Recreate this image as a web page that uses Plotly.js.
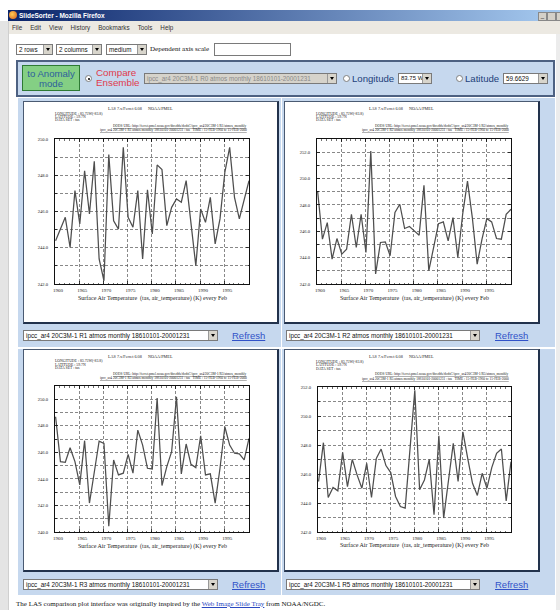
<!DOCTYPE html>
<html><head><meta charset="utf-8">
<script src="https://cdn.plot.ly/plotly-3.0.1.min.js"></script>
<style>
html,body{margin:0;padding:0;}
body{width:560px;height:610px;position:relative;overflow:hidden;background:#fff;font-family:"Liberation Sans",Arial,sans-serif;}
.a{position:absolute;}
.sel{position:absolute;background:#fff;border:1px solid #7a7a7a;box-sizing:border-box;font-size:6.3px;line-height:9px;color:#111;white-space:nowrap;overflow:hidden;padding-left:2px;}
.sel .arr{position:absolute;right:0;top:0;bottom:0;width:8px;background:#d8d5cc;border-left:1px solid #999;}
.sel .arr:after{content:"";position:absolute;left:2px;top:3px;border-left:2px solid transparent;border-right:2px solid transparent;border-top:3px solid #000;}
.sel.dis{background:#d6d3cb;color:#8a8a8a;}
.radio{position:absolute;width:7px;height:7px;border-radius:50%;background:#fff;border:1px solid #808080;box-sizing:border-box;}
.radio.on:after{content:"";position:absolute;left:1.5px;top:1.5px;width:2px;height:2px;border-radius:50%;background:#000;}
.panel{position:absolute;background:#c6d8ee;}
.box{position:absolute;background:#fff;border-left:1px solid #4a5a72;border-top:1px solid #4a5a72;border-right:2px solid #22324c;border-bottom:2px solid #22324c;box-sizing:border-box;}
.refresh{position:absolute;color:#3152c8;text-decoration:underline;font-size:9.5px;line-height:11px;}
.plot{position:absolute;width:253px;height:220px;}
</style></head><body>

<!-- window chrome -->
<div class="a" style="left:8px;top:10px;width:552px;height:11px;background:linear-gradient(to right,#0a246a,#a6caf0);"></div>
<div class="a" style="left:9px;top:11px;width:8px;height:8px;background:radial-gradient(circle at 40% 40%,#ffcc55,#d2581a);border-radius:50%;"></div>
<div class="a" style="left:19px;top:10px;color:#fff;font-weight:bold;font-size:6.5px;line-height:11px;">SlideSorter - Mozilla Firefox</div>
<div class="a" style="left:538px;top:12px;width:7px;height:7px;background:#d4d0c8;border:1px solid #888;font-size:6px;line-height:6px;text-align:center;">_</div>
<div class="a" style="left:547px;top:12px;width:7px;height:7px;background:#d4d0c8;border:1px solid #888;"></div>
<div class="a" style="left:556px;top:12px;width:7px;height:7px;background:#d4d0c8;border:1px solid #888;"></div>
<div class="a" style="left:8px;top:21px;width:552px;height:13px;background:#ece9e2;"></div>
<div class="a" style="left:0px;top:21px;width:8px;height:589px;background:#e4e4e4;border-right:1px solid #cfcfcf;"></div>
<div class="a" style="left:556px;top:34px;width:4px;height:576px;background:#ececec;"></div>
<div class="a" style="left:12px;top:22px;font-size:6.3px;line-height:11px;color:#333;">
<span style="margin-right:8px">File</span><span style="margin-right:8px">Edit</span><span style="margin-right:8px">View</span><span style="margin-right:8px">History</span><span style="margin-right:8px">Bookmarks</span><span style="margin-right:8px">Tools</span><span>Help</span></div>

<!-- top controls -->
<div class="sel" style="left:16px;top:44px;width:37px;height:11px;">2 rows<span class="arr"></span></div>
<div class="sel" style="left:56px;top:44px;width:46px;height:11px;">2 columns<span class="arr"></span></div>
<div class="sel" style="left:106px;top:44px;width:41px;height:11px;">medium<span class="arr"></span></div>
<div class="a" style="left:150px;top:44px;font-family:'Liberation Serif',serif;font-size:7px;line-height:11px;color:#111;">Dependent axis scale</div>
<div class="a" style="left:214px;top:43px;width:77px;height:13px;border:1px solid #7a7a7a;box-sizing:border-box;background:#fff;"></div>

<!-- blue control bar -->
<div class="a" style="left:16px;top:60px;width:539px;height:37px;background:#c6d8ee;border:2px solid #4d6182;box-sizing:border-box;"></div>
<div class="a" style="left:22px;top:65px;width:58px;height:26px;background:#84cf84;border:1px solid #2e7a34;box-sizing:border-box;text-align:center;color:#2d5f9c;font-size:9.6px;line-height:10px;padding-top:2.5px;">to Anomaly<br>mode</div>
<div class="radio on" style="left:85px;top:75px;"></div>
<div class="a" style="left:96px;top:68px;color:#e03a4c;font-size:9.8px;line-height:10px;">Compare<br>Ensemble</div>
<div class="sel dis" style="left:144px;top:73px;width:193px;height:11px;">ipcc_ar4 20C3M-1 R0 atmos monthly 18610101-20001231<span class="arr"></span></div>
<div class="radio" style="left:343px;top:75px;"></div>
<div class="a" style="left:352px;top:73px;color:#22407a;font-size:9.6px;line-height:11px;">Longitude</div>
<div class="sel" style="left:398px;top:73px;width:34px;height:11px;font-size:6px;">83.75 W<span class="arr"></span></div>
<div class="radio" style="left:456px;top:75px;"></div>
<div class="a" style="left:465px;top:73px;color:#22407a;font-size:9.6px;line-height:11px;">Latitude</div>
<div class="sel" style="left:503px;top:73px;width:45px;height:11px;">59.6629<span class="arr"></span></div>

<!-- panels -->
<div class="panel" style="left:18px;top:98px;width:263px;height:249px;"></div>
<div class="panel" style="left:282px;top:98px;width:273px;height:249px;"></div>
<div class="panel" style="left:18px;top:349px;width:263px;height:246px;"></div>
<div class="panel" style="left:282px;top:349px;width:273px;height:246px;"></div>
<div class="box" style="left:23px;top:101px;width:256px;height:223px;"></div>
<div class="box" style="left:284px;top:101px;width:256px;height:223px;"></div>
<div class="box" style="left:23px;top:349px;width:256px;height:223px;"></div>
<div class="box" style="left:284px;top:349px;width:256px;height:223px;"></div>

<div id="p1" class="plot" style="left:24px;top:102px;"></div>
<div id="p2" class="plot" style="left:285px;top:102px;"></div>
<div id="p3" class="plot" style="left:24px;top:350px;"></div>
<div id="p4" class="plot" style="left:285px;top:350px;"></div>

<div class="sel" style="left:23px;top:330px;width:195px;height:11px;">ipcc_ar4 20C3M-1 R1 atmos monthly 18610101-20001231<span class="arr"></span></div>
<div class="refresh" style="left:232px;top:330px;">Refresh</div>
<div class="sel" style="left:286px;top:330px;width:194px;height:11px;">ipcc_ar4 20C3M-1 R2 atmos monthly 18610101-20001231<span class="arr"></span></div>
<div class="refresh" style="left:495px;top:330px;">Refresh</div>
<div class="sel" style="left:23px;top:579px;width:195px;height:11px;">ipcc_ar4 20C3M-1 R3 atmos monthly 18610101-20001231<span class="arr"></span></div>
<div class="refresh" style="left:232px;top:579px;">Refresh</div>
<div class="sel" style="left:286px;top:579px;width:194px;height:11px;">ipcc_ar4 20C3M-1 R5 atmos monthly 18610101-20001231<span class="arr"></span></div>
<div class="refresh" style="left:495px;top:579px;">Refresh</div>

<div class="a" style="left:16px;top:599px;font-family:'Liberation Serif',serif;font-size:7px;line-height:10px;color:#111;white-space:nowrap;">The LAS comparison plot interface was originally inspired by the <span style="color:#2a48c0;text-decoration:underline;">Web Image Slide Tray</span> from NOAA/NGDC.</div>

<script>
// ---- data ----
const years = [1960,1961,1962,1963,1964,1965,1966,1967,1968,1969,1970,1971,1972,1973,1974,1975,1976,1977,1978,1979,1980,1981,1982,1983,1984,1985,1986,1987,1988,1989,1990,1991,1992,1993,1994,1995,1996,1997,1998,1999,2000];
const tasR1 = [244.39,245.03,245.68,244.02,247.15,245.31,248.25,245.86,248.77,243.38,242.18,249.14,245.49,245.03,249.54,245.68,245.13,247.15,243.38,247.20,244.76,248.57,248.31,245.22,246.23,246.69,246.51,247.70,245.40,243.01,246.14,245.40,246.78,244.21,245.59,248.16,249.54,246.78,245.59,246.60,247.70];
const tasR2 = [249.05,245.40,246.66,243.89,245.45,244.27,244.64,247.29,244.77,247.29,244.39,252.08,242.76,245.15,245.20,244.14,247.42,248.05,246.21,246.36,246.03,245.70,249.48,243.01,244.77,246.58,246.71,245.27,247.04,244.02,247.29,249.81,247.04,243.51,245.40,246.96,246.71,245.45,245.40,247.29,247.67];
const tasR3 = [248.68,245.30,245.25,246.35,245.30,243.55,246.88,242.18,244.50,246.85,246.68,240.43,245.43,244.30,244.43,245.85,244.43,247.68,246.55,244.80,244.75,250.10,243.50,244.93,246.05,250.18,244.38,246.63,245.10,244.85,247.25,244.30,244.38,242.18,244.80,247.93,246.55,245.93,245.88,245.43,247.05];
const tasR5 = [245.48,248.16,244.38,245.07,244.84,247.49,245.13,247.01,245.94,245.02,246.74,244.38,247.08,247.72,246.58,246.10,244.45,243.76,243.65,247.72,251.77,244.91,245.59,247.01,243.19,248.64,242.96,245.55,248.11,245.48,248.91,247.08,245.36,244.52,246.05,245.02,246.44,247.42,247.72,244.15,246.85];
const xTickYears = [1960,1965,1970,1975,1980,1985,1990,1995];
const yRangeR1 = [242, 250];
const yRangeR2 = [242, 253];
const yRangeR3 = [240, 251];
const yRangeR5 = [242, 252];
const xAxisTitle = 'Surface Air Temperature  (tas, air_temperature) (K) every Feb';
const headerText = 'LAS 7.x/Ferret 6.08      NOAA/PMEL';
const infoLines = ['LONGITUDE : 83.75W(-83.8)', 'LATITUDE : 59.7N', 'DATA SET : tas'];
const memberNames = ['R1', 'R2', 'R3', 'R5'];

const dates = years.map(y => y + '-02-15');
const tickDates = xTickYears.map(y => y + '-01-01');
const tickText = xTickYears.map(String);
const serif = '"Liberation Serif","DejaVu Serif",serif';
const gridCol = '#555';

function drawPanel(id, series, yRange, member, m) {
  const W = 253, H = 220;
  const pw = W - m.l - m.r, ph = H - m.t - m.b;
  const px = x => (x - m.l) / pw;
  const py = y => 1 - (y - m.t) / ph;
  const urlLines = [
    'DODS URL: http://ferret.pmel.noaa.gov/thredds/dodsC/ipcc_ar4/20C3M-1/' + member + '/atmos_monthly',
    'ipcc_ar4 20C3M-1 ' + member + ' atmos monthly 18610101-20001231 : tas   TIME : 15-FEB-1960 to 15-FEB-2000'
  ];
  const ann = [];
  ann.push({text: headerText, xref:'paper', yref:'paper', x: px(116), y: py(6), xanchor:'center', yanchor:'middle', showarrow:false, font:{size:4.2, family:serif, color:'#222'}});
  infoLines.forEach((t, i) => ann.push({text: t, xref:'paper', yref:'paper', x: px(29), y: py(11.3 + 3.4*i), xanchor:'left', yanchor:'middle', showarrow:false, font:{size:3.8, family:serif, color:'#222'}}));
  urlLines.forEach((t, i) => ann.push({text: '<u>' + t + '</u>', xref:'paper', yref:'paper', x: 1, y: py(23.7 + 4.3*i), xanchor:'right', yanchor:'middle', showarrow:false, font:{size:3.5, family:serif, color:'#222'}}));
  ann.push({text: xAxisTitle, xref:'paper', yref:'paper', x: 0.5, y: py(196.5), xanchor:'center', yanchor:'middle', showarrow:false, font:{size:6, family:serif, color:'#222'}});

  const trace = {x: dates, y: series, type:'scatter', mode:'lines', line:{color:'#4e4e4e', width:1.25}, hoverinfo:'skip'};
  const layout = {
    width: W, height: H,
    margin: {l: m.l, r: m.r, t: m.t, b: m.b, pad: 0},
    paper_bgcolor: 'rgba(0,0,0,0)', plot_bgcolor: '#ffffff', showlegend: false,
    font: {family: serif, color: '#222'},
    xaxis: {type:'date', range:['1960-01-01','2000-02-15'], tickmode:'array', tickvals: tickDates, ticktext: tickText,
      showgrid:true, gridcolor:gridCol, griddash:'3px,2px', gridwidth:0.7,
      showline:true, linecolor:'#111', linewidth:1, mirror:'ticks', ticks:'inside', ticklen:3, tickwidth:0.8, tickcolor:'#111',
      minor:{dtick:'M12', tick0:'1960-01-01', ticks:'inside', ticklen:1.5, tickcolor:'#111', tickwidth:0.6, showgrid:false},
      tickfont:{size:5, family:serif, color:'#222'}, ticklabelshift:3, ticklabelstandoff:1, zeroline:false, fixedrange:true},
    yaxis: {range: yRange, dtick:2, tick0:0, tickformat:'.1f',
      showgrid:true, gridcolor:gridCol, griddash:'3px,2px', gridwidth:0.7,
      minor:{dtick:1, tick0:0, showgrid:true, gridcolor:gridCol, griddash:'3px,2px', gridwidth:0.7, ticks:'inside', ticklen:1.5, tickcolor:'#111'},
      showline:true, linecolor:'#111', linewidth:1, mirror:'ticks', ticks:'inside', ticklen:3, tickwidth:0.8, tickcolor:'#111',
      tickfont:{size:4.6, family:serif, color:'#222'}, ticklabelstandoff:5, zeroline:false, fixedrange:true},
    annotations: ann
  };
  Plotly.newPlot(id, [trace], layout, {staticPlot:true, displayModeBar:false});
}

drawPanel('p1', tasR1, yRangeR1, memberNames[0], {l:31, r:28, t:36.7, b:38.3});
drawPanel('p2', tasR2, yRangeR2, memberNames[1], {l:32, r:27, t:36.7, b:38.3});
drawPanel('p3', tasR3, yRangeR3, memberNames[2], {l:31, r:28, t:36, b:38});
drawPanel('p4', tasR5, yRangeR5, memberNames[3], {l:33, r:27, t:36.5, b:37.5});
</script>
</body></html>
